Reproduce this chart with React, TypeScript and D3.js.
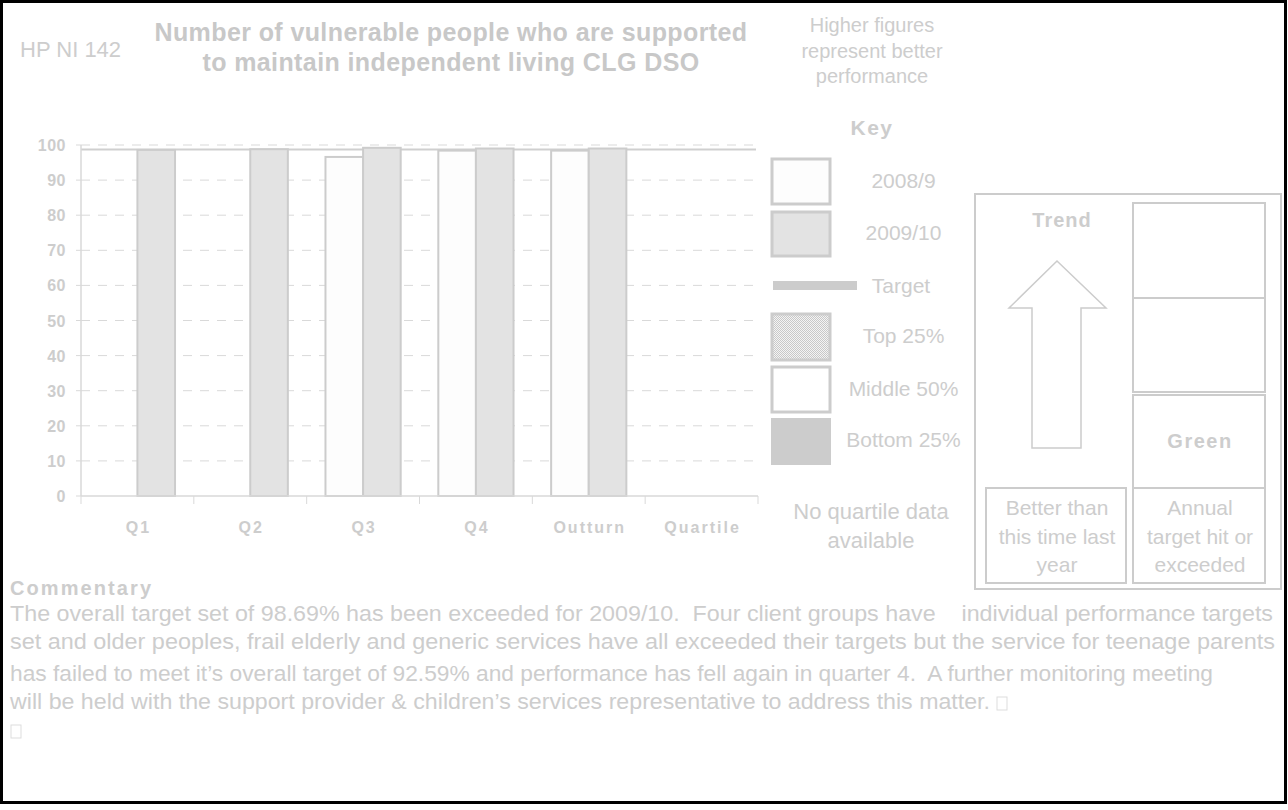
import React from "react";
import * as d3 from "d3";

const categories = ["Q1", "Q2", "Q3", "Q4", "Outturn", "Quartile"];
const seriesNames = ["2008/9", "2009/10"];
const values2008: (number | null)[] = [null, null, 96.6, 98.4, 98.4, null];
const values2009: (number | null)[] = [98.6, 98.8, 99.2, 99.0, 99.0, null];
const targetValue = 98.69;
const yTicks = [0, 10, 20, 30, 40, 50, 60, 70, 80, 90, 100];

const legendItems = ["2008/9", "2009/10", "Target", "Top 25%", "Middle 50%", "Bottom 25%"];

const commentaryLines = [
  "The overall target set of 98.69% has been exceeded for 2009/10.  Four client groups have    individual performance targets",
  "set and older peoples, frail elderly and generic services have all exceeded their targets but the service for teenage parents",
  "has failed to meet it\u2019s overall target of 92.59% and performance has fell again in quarter 4.  A further monitoring meeting",
  "will be held with the support provider & children\u2019s services representative to address this matter.",
];
const commentaryEnds = [1273, 1275, 1213, 990];
const commentaryBaselines = [621, 649, 681, 709];

const GRAY = "#cccccc";
const TXT = "#cdcdcd";
const FONT = "'Liberation Sans', Arial, sans-serif";

export default function App() {
  const x0 = d3.scaleBand<string>().domain(categories).range([81, 758]);
  const bw = x0.bandwidth();
  const x1 = d3.scaleBand<string>().domain(seriesNames).range([bw / 6, (bw * 5) / 6]);
  const y = d3.scaleLinear().domain([0, 100]).range([496, 145]);
  const series = [values2008, values2009];
  const fills = ["#fdfdfd", "#e3e3e3"];
  const legendY = [188, 240, 293, 343, 396, 447];

  return (
    <svg width={1288} height={810} style={{ position: "absolute", left: 0, top: 0, background: "#fff" }} fontFamily={FONT}>
      <defs>
        <pattern id="dots" width={2} height={2} patternUnits="userSpaceOnUse">
          <rect width={2} height={2} fill="#f4f4f4" />
          <rect width={1} height={1} fill="#c8c8c8" />
          <rect x={1} y={1} width={1} height={1} fill="#c8c8c8" />
        </pattern>
      </defs>
      <rect x={1.5} y={1.5} width={1284} height={801} fill="#fff" stroke="#000" strokeWidth={3} />

      {/* Titles */}
      <text x={20} y={57} fontSize={22} fill={TXT}>HP NI 142</text>
      <text x={451} y={41} fontSize={25} fontWeight="bold" fill="#c8c8c8" textAnchor="middle" letterSpacing={0.4}>Number of vulnerable people who are supported</text>
      <text x={451} y={71} fontSize={25} fontWeight="bold" fill="#c8c8c8" textAnchor="middle" letterSpacing={0.4}>to maintain independent living CLG DSO</text>
      <text x={872} y={32} fontSize={20} fill={TXT} textAnchor="middle">Higher figures</text>
      <text x={872} y={58} fontSize={20} fill={TXT} textAnchor="middle">represent better</text>
      <text x={872} y={83} fontSize={20} fill={TXT} textAnchor="middle">performance</text>
      <text x={872} y={135} fontSize={21} fontWeight="bold" fill={TXT} textAnchor="middle" letterSpacing={1.5}>Key</text>

      {/* Gridlines */}
      {yTicks.filter((t) => t > 0).map((t) => (
        <line key={t} x1={81} x2={758} y1={y(t)} y2={y(t)} stroke="#d9d9d9" strokeDasharray="9,8" />
      ))}
      {/* Target line */}
      <line x1={81} x2={756} y1={y(targetValue)} y2={y(targetValue)} stroke="#cfcfcf" strokeWidth={2} />

      {/* Bars */}
      {series.map((vals, si) =>
        vals.map((v, ci) =>
          v == null ? null : (
            <rect
              key={`${si}-${ci}`}
              x={(x0(categories[ci]) as number) + (x1(seriesNames[si]) as number)}
              y={y(v)}
              width={x1.bandwidth()}
              height={y(0) - y(v)}
              fill={fills[si]}
              stroke="#cccccc"
              strokeWidth={2}
            />
          )
        )
      )}

      {/* Y axis */}
      <line x1={81} x2={81} y1={145} y2={496} stroke="#d9d9d9" strokeWidth={1.5} />
      {yTicks.map((t) => (
        <g key={t}>
          <line x1={76} x2={81} y1={y(t)} y2={y(t)} stroke="#d9d9d9" />
          <text x={66} y={y(t) + 6} fontSize={16} fontWeight="bold" fill={TXT} textAnchor="end" letterSpacing={0.5}>{t}</text>
        </g>
      ))}
      {/* X axis */}
      <line x1={81} x2={758} y1={496} y2={496} stroke="#d9d9d9" strokeWidth={1.5} />
      {[...categories.map((c) => x0(c) as number), 758].map((xv, i) => (
        <line key={i} x1={xv} x2={xv} y1={496} y2={504} stroke="#d9d9d9" />
      ))}
      {categories.map((c) => (
        <text key={c} x={(x0(c) as number) + bw / 2 + 1} y={533} fontSize={16} fontWeight="bold" fill={TXT} textAnchor="middle" letterSpacing={2}>{c}</text>
      ))}

      {/* Legend */}
      <rect x={772} y={159} width={58} height={45} fill="#fdfdfd" stroke={GRAY} strokeWidth={3} />
      <rect x={772} y={212} width={58} height={44} fill="#e3e3e3" stroke={GRAY} strokeWidth={3} />
      <rect x={773} y={281} width={84} height={9} fill={GRAY} />
      <rect x={772} y={314} width={58} height={46} fill="url(#dots)" stroke={GRAY} strokeWidth={3} />
      <rect x={772} y={367} width={58} height={45} fill="#fff" stroke={GRAY} strokeWidth={3} />
      <rect x={771} y={418} width={60} height={47} fill={GRAY} />
      {legendItems.map((l, i) => (
        <text key={l} x={i === 2 ? 901 : 903.5} y={legendY[i]} fontSize={21} fill={TXT} textAnchor="middle">{l}</text>
      ))}
      <text x={871} y={519} fontSize={22} fill={TXT} textAnchor="middle">No quartile data</text>
      <text x={871} y={548} fontSize={22} fill={TXT} textAnchor="middle">available</text>

      {/* Trend / status box */}
      <rect x={975} y={194} width={306} height={395} fill="none" stroke={GRAY} strokeWidth={2} />
      <rect x={1133} y={203} width={132} height={95} fill="none" stroke={GRAY} strokeWidth={2} />
      <rect x={1133} y={298} width={132} height={94} fill="none" stroke={GRAY} strokeWidth={2} />
      <rect x={1133} y={395} width={132} height={93} fill="none" stroke={GRAY} strokeWidth={2} />
      <rect x={1133} y={488} width={132} height={95} fill="none" stroke={GRAY} strokeWidth={2} />
      <rect x={986} y={488} width={140} height={95} fill="none" stroke={GRAY} strokeWidth={2} />
      <path d="M1057,261 L1106,308 L1081,308 L1081,448 L1032,448 L1032,308 L1009,308 Z" fill="#fff" stroke={GRAY} strokeWidth={1.5} />
      <text x={1062} y={227} fontSize={20} fontWeight="bold" fill={TXT} textAnchor="middle" letterSpacing={1}>Trend</text>
      <text x={1200} y={448} fontSize={20} fontWeight="bold" fill={TXT} textAnchor="middle" letterSpacing={1.5}>Green</text>
      {["Better than", "this time last", "year"].map((s, i) => (
        <text key={s} x={1057} y={515 + i * 28.5} fontSize={21} fill={TXT} textAnchor="middle">{s}</text>
      ))}
      {["Annual", "target hit or", "exceeded"].map((s, i) => (
        <text key={s} x={1200} y={515 + i * 28.5} fontSize={21} fill={TXT} textAnchor="middle">{s}</text>
      ))}

      {/* Commentary */}
      <text x={10} y={595} fontSize={20} fontWeight="bold" fill={TXT} textLength={141} lengthAdjust="spacing">Commentary</text>
      {commentaryLines.map((l, i) => (
        <text key={i} x={10} y={commentaryBaselines[i]} fontSize={22} fill={TXT} style={{ whiteSpace: "pre" }} textLength={commentaryEnds[i] - 10} lengthAdjust="spacingAndGlyphs">{l}</text>
      ))}
      <rect x={997} y={697} width={10} height={13} fill="none" stroke="#dddddd" strokeWidth={1} />
      <rect x={11} y={725} width={10} height={13} fill="none" stroke="#dddddd" strokeWidth={1} />
    </svg>
  );
}
